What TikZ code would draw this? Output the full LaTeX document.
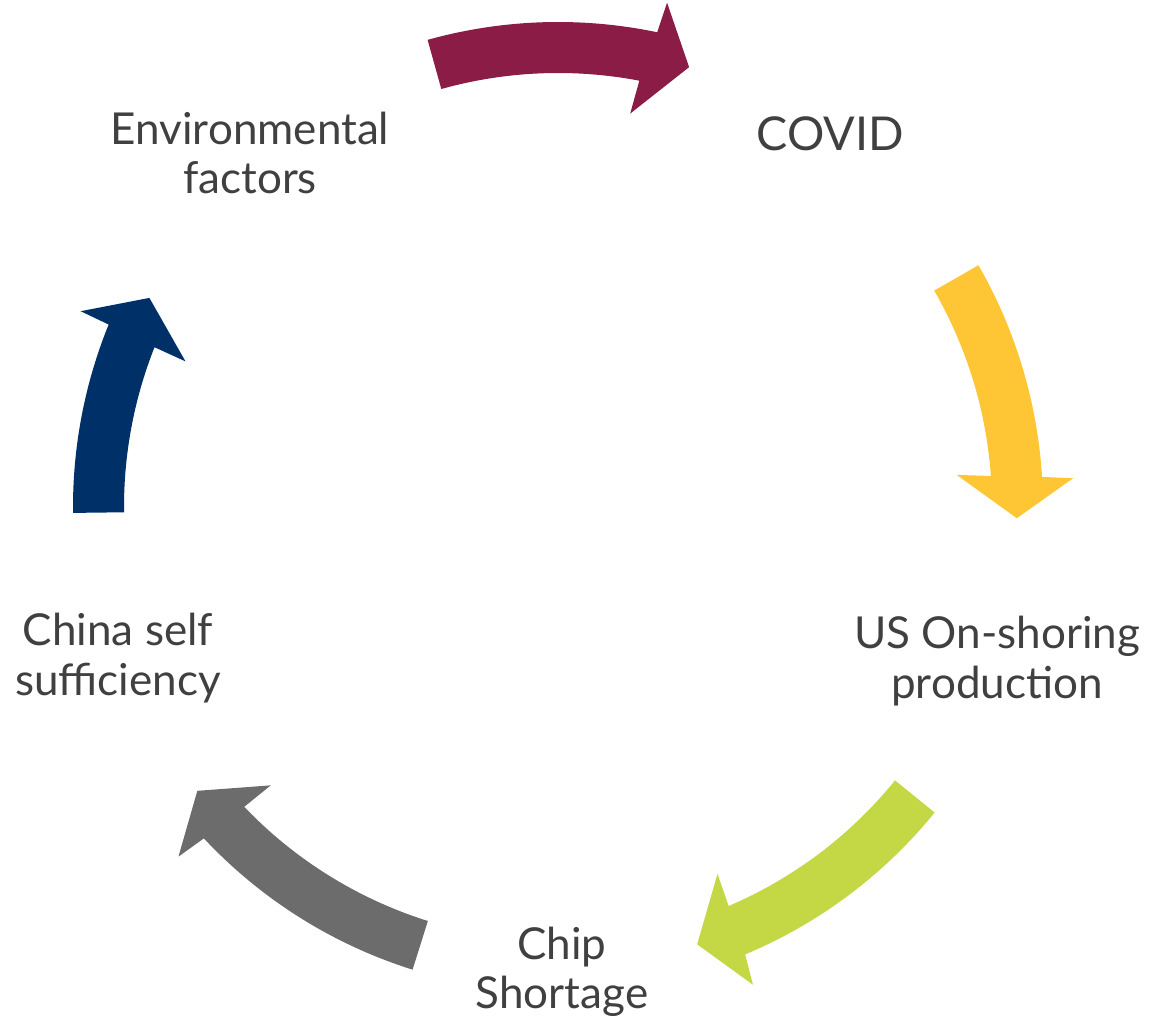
\documentclass[tikz,border=0pt]{standalone}
\usepackage{fontspec}
\setmainfont{Lato}
\definecolor{cmaroon}{HTML}{8B1C45}
\definecolor{cyellow}{HTML}{FEC635}
\definecolor{cgreen}{HTML}{C3D844}
\definecolor{cgray}{HTML}{6C6C6C}
\definecolor{cnavy}{HTML}{003068}
\definecolor{ctext}{HTML}{404040}
% #1 colour, #2 start angle, #3 shaft end (outer), #4 shaft end (inner),
% #5 head outer corner, #6 head inner corner, #7 tip angle
\newcommand\cyarr[7]{%
  \fill[#1] (#2:485) arc[start angle=#2, end angle=#3, radius=485]
    -- (#5:516) -- (#7:459) -- (#6:400) -- (#4:434)
    arc[start angle=#4, end angle=#2, radius=434] -- cycle;}
\begin{document}
\begin{tikzpicture}[x=0.75pt,y=0.75pt,
  lbl/.style={font=\fontsize{33}{37}\selectfont, text=ctext, align=center, inner sep=0pt}]
\useasboundingbox (0,0) rectangle (1150,1027);
% labels (y measured upward: Y = 1027 - y)
\node[lbl] (env)   at (250,874) {Environmental\\factors};
\node[lbl, font=\fontsize{35}{40}\selectfont] (covid) at (830,893) {COVID};
\node[lbl] (us)    at (997,366) {US On-shoring\\production};
\node[lbl] (chip)  at (562,55)  {Chip\\Shortage};
\node[lbl] (china) at (118,369) {China self\\sufficiency};
% arrows
\begin{scope}[shift={(558,520)}]
  \cyarr{cmaroon}{105.6}{78.2}{79.2}{77.8}{79.6}{73.4}
  \cyarr{cyellow}{29.9}{3.55}{4.1}{3.2}{4.6}{-1.4}
  \cyarr{cgreen}{-39.05}{-67.3}{-66.85}{-67.8}{-66.5}{-72.35}
  \cyarr{cgray}{-107.45}{-136.9}{-136.3}{-137.35}{-135.9}{-141.8}
  \cyarr{cnavy}{180.7}{157.9}{158.4}{157.7}{158.65}{152.9}
\end{scope}
\end{tikzpicture}
\end{document}
